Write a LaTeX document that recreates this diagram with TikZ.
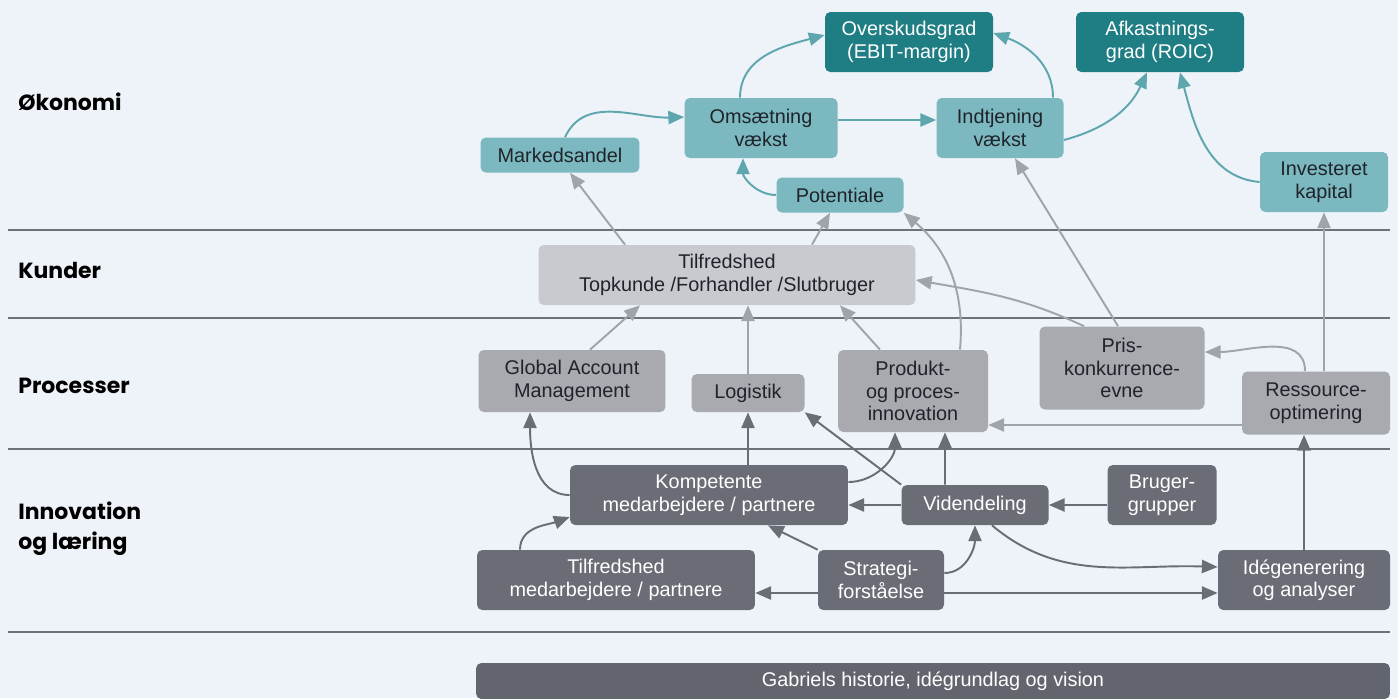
\documentclass[tikz,border=0pt]{standalone}
\usepackage{fontspec}
\setmainfont{Liberation Sans}
\newfontfamily\headfont{Poppins}
\usetikzlibrary{arrows.meta}

\definecolor{bgcol}{RGB}{238,242,249}
\definecolor{tealL}{RGB}{124,184,192}
\definecolor{tealD}{RGB}{31,125,132}
\definecolor{tealA}{RGB}{94,166,174}
\definecolor{grayL}{RGB}{200,202,208}
\definecolor{grayM}{RGB}{168,170,176}
\definecolor{grayA}{RGB}{160,163,170}
\definecolor{grayD}{RGB}{106,109,117}
\definecolor{grayG}{RGB}{98,101,109}
\definecolor{lineC}{RGB}{110,113,122}
\definecolor{txtdark}{RGB}{30,36,42}

\begin{document}
\begin{tikzpicture}[x=0.02cm, y=0.02cm,
    anybox/.style={rounded corners=3pt, align=center, inner sep=2pt,
      font=\fontsize{11.3}{12.8}\selectfont},
    ecobox/.style={anybox, fill=tealL, text=txtdark},
    keybox/.style={anybox, fill=tealD, text=white},
    kunbox/.style={anybox, fill=grayL, text=txtdark},
    probox/.style={anybox, fill=grayM, text=txtdark},
    innbox/.style={anybox, fill=grayD, text=white},
    rowlabel/.style={anchor=west, align=left, inner sep=0pt, text=black,
      font=\headfont\bfseries\fontsize{12.5}{17}\selectfont},
    sepline/.style={draw=lineC, line width=1.4pt},
    anyarr/.style={-{Triangle[length=9pt,width=7.5pt]}, line width=1.1pt},
    ecoarr/.style={anyarr, draw=tealA},
    kunarr/.style={anyarr, draw=grayA},
    innarr/.style={anyarr, draw=grayD}]
          \useasboundingbox (0,0) rectangle (1398,-698);
          \fill[bgcol] (0,0) rectangle (1398,-698);

          \foreach \y in {230,318,449,632}{
            \draw[sepline] (8,-\y) -- (1390,-\y);
          }

          \node[rowlabel] (okonomi) at (18,-102) {Økonomi};
          \node[rowlabel] (kunder) at (18,-270) {Kunder};
          \node[rowlabel] (processer) at (18,-386) {Processer};
          \node[rowlabel] (innovation) at (18,-529) {Innovation\\og læring};

          \node[keybox, minimum width=3.36cm, minimum height=1.2cm] (ovg) at (909,-42) {Overskudsgrad\\(EBIT-margin)};
          \node[keybox, minimum width=3.36cm, minimum height=1.2cm] (afk) at (1160,-42) {Afkastnings-\\grad (ROIC)};
          \node[ecobox, minimum width=3.06cm, minimum height=1.2cm] (oms) at (761,-128) {Omsætning\\vækst};
          \node[ecobox, minimum width=2.54cm, minimum height=1.2cm] (ind) at (1000,-128) {Indtjening\\vækst};
          \node[ecobox, minimum width=3.18cm, minimum height=0.7cm] (mar) at (560,-155) {Markedsandel};
          \node[ecobox, minimum width=2.54cm, minimum height=0.7cm] (pot) at (840,-195) {Potentiale};
          \node[ecobox, minimum width=2.56cm, minimum height=1.2cm] (inv) at (1324,-182) {Investeret\\kapital};

          \node[kunbox, minimum width=7.54cm, minimum height=1.2cm] (tfk) at (727,-275) {Tilfredshed\\Topkunde /Forhandler /Slutbruger};

          \node[probox, minimum width=3.74cm, minimum height=1.24cm] (gam) at (572,-381) {Global Account\\Management};
          \node[probox, minimum width=2.26cm, minimum height=0.76cm] (log) at (748,-393) {Logistik};
          \node[probox, minimum width=3cm, minimum height=1.64cm] (ppi) at (913,-391) {Produkt-\\og proces-\\innovation};
          \node[probox, minimum width=3.3cm, minimum height=1.66cm] (pris) at (1122,-368) {Pris-\\konkurrence-\\evne};
          \node[probox, minimum width=2.96cm, minimum height=1.26cm] (res) at (1316,-403) {Ressource-\\optimering};

          \node[innbox, minimum width=5.56cm, minimum height=1.2cm] (kmp) at (709,-495) {Kompetente\\medarbejdere / partnere};
          \node[innbox, minimum width=2.94cm, minimum height=0.8cm] (vid) at (975,-505) {Videndeling};
          \node[innbox, minimum width=2.18cm, minimum height=1.2cm] (brg) at (1162,-495) {Bruger-\\grupper};
          \node[innbox, minimum width=5.56cm, minimum height=1.2cm] (tfm) at (616,-580) {Tilfredshed\\medarbejdere / partnere};
          \node[innbox, minimum width=2.52cm, minimum height=1.2cm] (str) at (881,-580) {Strategi-\\forståelse};
          \node[innbox, minimum width=3.44cm, minimum height=1.2cm] (ide) at (1304,-580) {Idégenerering\\og analyser};

          \node[innbox, fill=grayG, minimum width=18.28cm, minimum height=0.72cm] (gab) at (933,-681) {Gabriels historie, idégrundlag og vision};

          \draw[ecoarr] ([xshift=0.1cm]mar.north) to[out=65,in=182] ([yshift=0.22cm]oms.west);
          \draw[ecoarr] ([xshift=-0.42cm]oms.north) to[out=90,in=195] ([yshift=0.14cm]ovg.west);
          \draw[ecoarr] ([yshift=0.16cm]oms.east) -- ([yshift=0.16cm]ind.west);
          \draw[ecoarr] ([xshift=1.06cm]ind.north) to[out=90,in=-20] ([yshift=0.18cm]ovg.east);
          \draw[ecoarr] ([yshift=-0.24cm]ind.east) to[out=15,in=-115] ([xshift=-0.26cm]afk.south);
          \draw[ecoarr] (pot.west) to[out=180,in=-90] ([xshift=-0.36cm]oms.south);
          \draw[ecoarr] (inv.west) to[out=175,in=-75] ([xshift=0.4cm]afk.south);

          \draw[kunarr] ([xshift=-2.04cm]tfk.north) -- ([xshift=0.2cm]mar.south);
          \draw[kunarr] ([xshift=1.7cm]tfk.north) -- ([xshift=-0.2cm]pot.south);
          \draw[kunarr] ([xshift=0.94cm]ppi.north) to[out=85,in=-40] (pot.south east);
          \draw[kunarr] ([xshift=-0.08cm]pris.north) -- ([xshift=0.3cm]ind.south);
          \draw[kunarr] ([xshift=-0.76cm]pris.north) to[out=155,in=-10] ([yshift=-0.1cm]tfk.east);
          \draw[kunarr] ([xshift=0.36cm]gam.north) -- ([xshift=-1.74cm]tfk.south);
          \draw[kunarr] (log.north) -- (log.north |- tfk.south);
          \draw[kunarr] ([xshift=-0.66cm]ppi.north) -- ([xshift=2.26cm]tfk.south);
          \draw[kunarr] ([xshift=-0.22cm]res.north) to[out=90,in=0] ([yshift=0.32cm]pris.east);
          \draw[kunarr] (res.north -| inv.south) -- (inv.south);
          \draw[kunarr] (res.west |- 0,-425) -- (ppi.east |- 0,-425);

          \draw[innarr] (kmp.west) to[out=180,in=-90] ([xshift=-0.84cm]gam.south);
          \draw[innarr] (kmp.north -| log.south) -- (log.south);
          \draw[innarr] ([yshift=0.26cm]kmp.east) to[out=0,in=-90] ([xshift=-0.36cm]ppi.south);
          \draw[innarr] (vid.north west) -- (log.south east);
          \draw[innarr] ([xshift=-0.6cm]vid.north) -- ([xshift=0.64cm]ppi.south);
          \draw[innarr] (vid.west) -- (kmp.east |- vid.west);
          \draw[innarr] (brg.west |- vid.east) -- (vid.east);
          \draw[innarr] ([xshift=0.34cm]vid.south) to[out=-40,in=178] ([yshift=0.26cm]ide.west);
          \draw[innarr] (str.north west) -- ([xshift=1.18cm]kmp.south);
          \draw[innarr] ([yshift=0.14cm]str.east) to[out=0,in=-90] (vid.south);
          \draw[innarr] (str.west |- 0,-593) -- (tfm.east |- 0,-593);
          \draw[innarr] (str.east |- 0,-593) -- (ide.west |- 0,-593);
          \draw[innarr] ([xshift=-1.92cm]tfm.north) to[out=90,in=200] ([yshift=-0.44cm]kmp.west);
          \draw[innarr] (ide.north) -- (ide.north |- res.south);
\end{tikzpicture}
\end{document}
